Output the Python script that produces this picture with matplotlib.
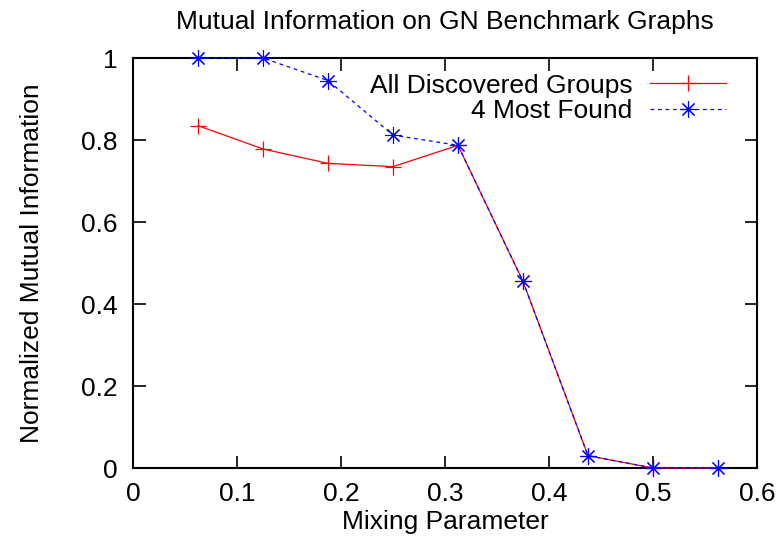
import matplotlib
matplotlib.use("Agg")
import matplotlib.pyplot as plt

plt.rcParams['font.family'] = ['Liberation Sans', 'DejaVu Sans']

mixing = [0.0625, 0.125, 0.1875, 0.25, 0.3125, 0.375, 0.4375, 0.5, 0.5625]
all_groups = [0.835, 0.778, 0.743, 0.735, 0.787, 0.455, 0.030, 0.0, 0.0]
most_found = [1.0, 1.0, 0.945, 0.812, 0.787, 0.455, 0.030, 0.0, 0.0]
xticks = [0, 0.1, 0.2, 0.3, 0.4, 0.5, 0.6]
xticklabels = ['0', '0.1', '0.2', '0.3', '0.4', '0.5', '0.6']
yticks = [0, 0.2, 0.4, 0.6, 0.8, 1]
yticklabels = ['0', '0.2', '0.4', '0.6', '0.8', '1']

FS = 19

fig = plt.figure(figsize=(7.82, 5.52), dpi=100)
ax = fig.add_axes([133/782, 84/552, 624/782, 410/552])

ax.plot(mixing, all_groups, color='#ff0000', lw=0.9, marker='+', ms=11,
        mew=0.9, label='All Discovered Groups', clip_on=False, zorder=3)
ax.plot(mixing, most_found, color='#0000ff', lw=0.9, ls=(0, (3, 3)),
        marker=(8, 2, 0), ms=12, mew=0.8, label='4 Most Found',
        clip_on=False, zorder=4)

ax.set_xlim(0, 0.6)
ax.set_ylim(0, 1)
ax.set_xticks(xticks)
ax.set_xticklabels(xticklabels)
ax.set_yticks(yticks)
ax.set_yticklabels(yticklabels)
ax.tick_params(direction='in', top=True, right=True, length=9, width=1.2,
               labelsize=FS)
ax.tick_params(axis='y', pad=11)
ax.tick_params(axis='x', pad=10)
for s in ax.spines.values():
    s.set_linewidth(1.5)

ax.set_xlabel('Mixing Parameter', fontsize=FS, labelpad=3)
ax.set_ylabel('Normalized Mutual Information', fontsize=FS, labelpad=27)
ax.set_title('Mutual Information on GN Benchmark Graphs', fontsize=FS, pad=21)

leg = ax.legend(loc='upper right', markerfirst=False, frameon=False,
                fontsize=FS, handlelength=2.9, borderaxespad=0.3,
                labelspacing=0.05, handletextpad=0.65,
                bbox_to_anchor=(0.98, 1.007))
for t in leg.get_texts():
    t.set_ha('right')

fig.savefig('out.png', dpi=100)
